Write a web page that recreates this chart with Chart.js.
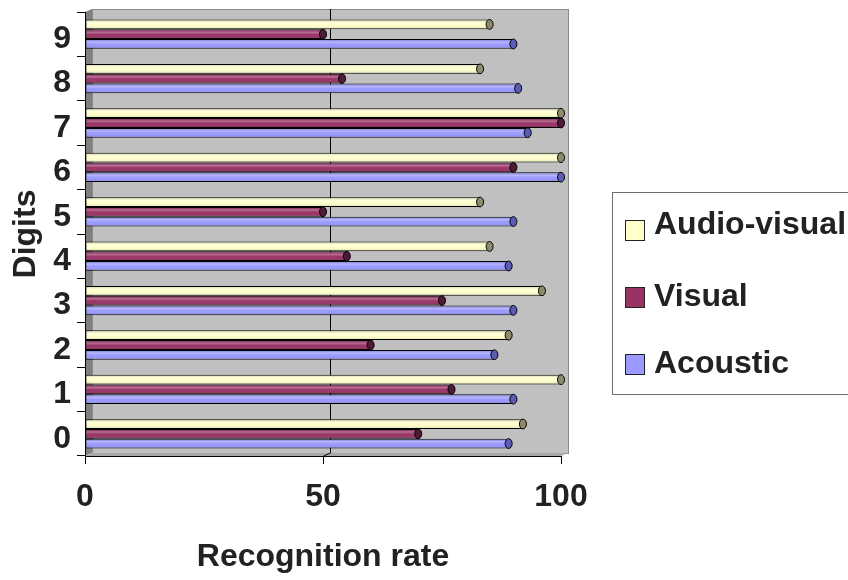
<!DOCTYPE html>
<html>
<head>
<meta charset="utf-8">
<title>Recognition rate by digit</title>
<script src="https://cdn.jsdelivr.net/npm/chart.js@4/dist/chart.umd.min.js"></script>
<style>
  html, body { margin: 0; padding: 0; background: #fff; overflow: hidden; }
  #wrap { position: relative; width: 848px; height: 580px; }
  #legend {
    position: absolute; left: 612px; top: 192px; width: 260px; height: 203px;
    border: 1px solid #6e6e6e; box-sizing: border-box;
    font: bold 32px 'Liberation Sans', Arial, sans-serif; color: #222;
  }
  .sw { position: absolute; left: 12px; width: 20px; height: 21px; border: 1px solid #222; box-sizing: border-box; }
  .lbl { position: absolute; left: 41px; height: 38px; line-height: 38px; white-space: nowrap; }
</style>
</head>
<body>
<div id="wrap">
  <canvas id="chart"></canvas>
  <div id="legend"></div>
</div>
<script>
// Digits on the category axis (drawn bottom to top)
const digits = ['0', '1', '2', '3', '4', '5', '6', '7', '8', '9'];
const seriesNames = ['Audio-visual', 'Visual', 'Acoustic'];

// Recognition rate (%) per digit
const audioVisual = [92, 100, 89, 96, 85, 83, 100, 100, 83, 85];
const visual      = [70, 77, 60, 75, 55, 50, 90, 100, 54, 50];
const acoustic    = [89, 90, 86, 90, 89, 90, 100, 93, 91, 90];

// Value axis tick labels
const xTicks = [0, 50, 100];

const FONT = { family: "'Liberation Sans', Arial, sans-serif", size: 32, weight: 'bold' };
const TEXT = '#222';
const DEPTH_X = 7, DEPTH_Y = -3;

const fills = ['#ffffcc', '#993366', '#9999ff'];
const caps  = ['#8c8c6c', '#4f1a36', '#5c5cb4'];

// Gray 3D box behind the bars: back wall, left wall, floor and the 50 gridline
const wallsPlugin = {
  id: 'walls',
  beforeDraw(chart) {
    const { ctx, chartArea: { left, right, top, bottom } } = chart;
    ctx.save();
    ctx.fillStyle = '#c0c0c0';
    ctx.fillRect(left + DEPTH_X, top + DEPTH_Y, right - left, bottom - top);
    ctx.strokeStyle = '#8a8a8a';
    ctx.lineWidth = 1;
    ctx.strokeRect(left + DEPTH_X + 0.5, top + DEPTH_Y + 0.5, right - left, bottom - top);

    ctx.fillStyle = '#808080';
    ctx.beginPath();
    ctx.moveTo(left, top); ctx.lineTo(left + DEPTH_X, top + DEPTH_Y);
    ctx.lineTo(left + DEPTH_X, bottom + DEPTH_Y); ctx.lineTo(left, bottom);
    ctx.closePath(); ctx.fill();

    ctx.fillStyle = '#a8a8a8';
    ctx.beginPath();
    ctx.moveTo(left, bottom); ctx.lineTo(left + DEPTH_X, bottom + DEPTH_Y);
    ctx.lineTo(right + DEPTH_X, bottom + DEPTH_Y); ctx.lineTo(right, bottom);
    ctx.closePath(); ctx.fill();

    const gx = Math.round(chart.scales.x.getPixelForValue(xTicks[1])) + 0.5;
    ctx.strokeStyle = '#000';
    ctx.beginPath();
    ctx.moveTo(gx + DEPTH_X, top + DEPTH_Y); ctx.lineTo(gx + DEPTH_X, bottom + DEPTH_Y);
    ctx.lineTo(gx, bottom);
    ctx.stroke();
    ctx.restore();
  }
};

// Cylinder look: shading across each bar and an elliptical end cap
const cylinderPlugin = {
  id: 'cylinder',
  afterDatasetsDraw(chart) {
    const ctx = chart.ctx;
    ctx.save();
    chart.data.datasets.forEach((ds, i) => {
      chart.getDatasetMeta(i).data.forEach(bar => {
        const { x, y, base, height } = bar.getProps(['x', 'y', 'base', 'height'], true);
        const top = y - height / 2;
        const g = ctx.createLinearGradient(0, top, 0, top + height);
        g.addColorStop(0, 'rgba(0,0,0,0.08)');
        g.addColorStop(0.3, 'rgba(255,255,255,0.30)');
        g.addColorStop(0.55, 'rgba(255,255,255,0)');
        g.addColorStop(1, 'rgba(0,0,0,0.18)');
        ctx.fillStyle = g;
        ctx.fillRect(base + 1, top + 1, x - base - 1, height - 2);

        ctx.beginPath();
        ctx.ellipse(x, y, 3.5, height / 2, 0, 0, Math.PI * 2);
        ctx.fillStyle = caps[i];
        ctx.fill();
        ctx.strokeStyle = '#000';
        ctx.lineWidth = 1;
        ctx.stroke();
      });
    });
    ctx.restore();
  }
};

const seriesValues = [audioVisual, visual, acoustic];

new Chart(document.getElementById('chart'), {
  type: 'bar',
  data: {
    labels: digits,
    datasets: seriesNames.map((name, i) => ({
      label: name,
      data: seriesValues[i],
      backgroundColor: fills[i],
      borderColor: '#000',
      borderWidth: 1,
      borderSkipped: false,
      categoryPercentage: 0.66,
      barPercentage: 1.0
    }))
  },
  options: {
    indexAxis: 'y',
    responsive: true,
    maintainAspectRatio: false,
    animation: false,
    layout: { padding: { top: 12, right: 287, left: 0, bottom: 0 } },
    plugins: { legend: { display: false }, tooltip: { enabled: false } },
    scales: {
      x: {
        min: 0, max: 100,
        afterBuildTicks(scale) { scale.ticks = xTicks.map(v => ({ value: v })); },
        afterFit(scale) { scale.height = 124; },
        ticks: { font: FONT, color: TEXT, padding: 14, maxRotation: 0 },
        grid: { drawOnChartArea: false, drawTicks: true, tickLength: 8, color: '#000' },
        border: { display: true, color: '#000', width: 1 },
        title: { display: true, text: 'Recognition rate', font: FONT, color: TEXT, padding: { top: 0, bottom: 4 } }
      },
      y: {
        reverse: true,
        afterFit(scale) { scale.width = 85; scale.paddingTop = 0; scale.paddingBottom = 0; },
        ticks: { font: FONT, color: TEXT, padding: 6, labelOffset: 5 },
        grid: { drawOnChartArea: false, drawTicks: true, tickLength: 8, color: '#000', offset: true },
        border: { display: true, color: '#000', width: 1 },
        title: { display: true, text: 'Digits', font: FONT, color: TEXT, padding: { top: 7, bottom: 0 } }
      }
    }
  },
  plugins: [wallsPlugin, cylinderPlugin]
});

// Legend box on the right
const legend = document.getElementById('legend');
const swatchTops = [27, 94, 161];
const labelTops = [11, 83, 150];
seriesNames.forEach((name, i) => {
  const sw = document.createElement('div');
  sw.className = 'sw';
  sw.style.top = swatchTops[i] + 'px';
  sw.style.background = fills[i];
  legend.appendChild(sw);
  const lb = document.createElement('div');
  lb.className = 'lbl';
  lb.style.top = labelTops[i] + 'px';
  lb.textContent = name;
  legend.appendChild(lb);
});
</script>
</body>
</html>
